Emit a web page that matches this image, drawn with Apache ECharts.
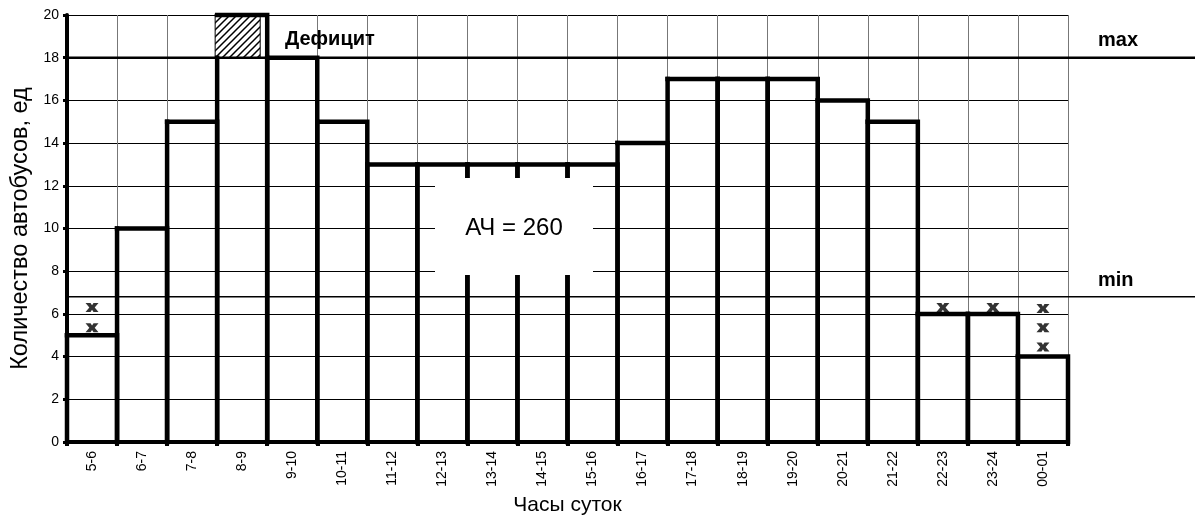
<!DOCTYPE html>
<html>
<head>
<meta charset="utf-8">
<script src="https://cdn.jsdelivr.net/npm/echarts@6/dist/echarts.min.js"></script>
<style>
  html, body { margin: 0; padding: 0; background: #fff; }
  #chart { width: 1197px; height: 528px; }
</style>
</head>
<body>
<div id="chart"></div>
<script>
// Hourly intervals of the day
const hours = ['5-6', '6-7', '7-8', '8-9', '9-10', '10-11', '11-12', '12-13', '13-14', '14-15',
  '15-16', '16-17', '17-18', '18-19', '19-20', '20-21', '21-22', '22-23', '23-24', '00-01'];
// Buses required in each hour
const buses = [5, 10, 15, 20, 18, 15, 13, 13, 13, 13, 13, 14, 17, 17, 17, 16, 15, 6, 6, 4];
// Fleet limits
const maxLevel = 18;
const minLevel = 6.8;
// Buses missing below the minimum level (one "x" per bus)
const shortHours = ['5-6', '5-6', '22-23', '23-24', '00-01', '00-01', '00-01'];
const shortLevels = [5.35, 6.3, 6.3, 6.3, 4.45, 5.35, 6.25];

const FONT = '"Liberation Sans", Arial, sans-serif';
const busHours = buses.reduce((a, b) => a + b, 0);

// Diagonal hatch used for the part above the max level
function hatchCanvas() {
  const s = 7;
  const c = document.createElement('canvas');
  c.width = s; c.height = s;
  const g = c.getContext('2d');
  g.fillStyle = '#fff';
  g.fillRect(0, 0, s, s);
  g.strokeStyle = '#000';
  g.lineWidth = 1.5;
  g.beginPath();
  g.moveTo(-1, s + 1); g.lineTo(s + 1, -1);
  g.moveTo(-1, 1); g.lineTo(1, -1);
  g.moveTo(s - 1, s + 1); g.lineTo(s + 1, s - 1);
  g.stroke();
  return c;
}
const hatch = hatchCanvas();

const stepData = buses.map((v, i) => [i, v]);
const overData = buses.map((v, i) => [i, v]).filter(d => d[1] > maxLevel);
const shortData = shortHours.map((h, k) => [hours.indexOf(h), shortLevels[k]]);

const chart = echarts.init(document.getElementById('chart'), null, { renderer: 'canvas' });

chart.setOption({
  animation: false,
  backgroundColor: '#fff',
  textStyle: { fontFamily: FONT },
  grid: { left: 67, right: 129, top: 15, bottom: 86, containLabel: false },
  xAxis: {
    type: 'category',
    data: hours,
    boundaryGap: true,
    name: 'Часы суток',
    nameLocation: 'middle',
    nameGap: 53,
    nameTextStyle: { fontSize: 21, color: '#000', fontFamily: FONT },
    axisLine: { lineStyle: { color: '#000', width: 4 } },
    axisTick: { show: true, length: 4, lineStyle: { color: '#000', width: 4 } },
    axisLabel: { rotate: 90, interval: 0, fontSize: 14, color: '#000', margin: 9, fontFamily: FONT },
    splitLine: { show: true, interval: 0, lineStyle: { color: '#777', width: 1 } }
  },
  yAxis: {
    type: 'value',
    min: 0,
    max: 20,
    interval: 2,
    name: 'Количество автобусов, ед',
    nameLocation: 'middle',
    nameGap: 27,
    nameTextStyle: { fontSize: 23.5, color: '#000', fontFamily: FONT },
    axisLine: { show: true, lineStyle: { color: '#000', width: 4 } },
    axisTick: { show: true, length: 4, lineStyle: { color: '#000', width: 3 } },
    axisLabel: { fontSize: 14, color: '#000', margin: 8, fontFamily: FONT },
    splitLine: { show: true, lineStyle: { color: '#000', width: 1 } }
  },
  series: [
    {
      // hatched part of a column exceeding the max level
      type: 'custom',
      z: 2,
      data: overData,
      renderItem(params, api) {
        const i = api.value(0);
        const lo = api.coord([i, maxLevel]);
        const hi = api.coord([i, api.value(1)]);
        const w = api.size([1, 0])[0];
        return {
          type: 'rect',
          shape: { x: lo[0] - w / 2 - 2, y: hi[1] - 1, width: w - 5, height: lo[1] - hi[1] + 1 },
          style: { fill: { image: hatch, repeat: 'repeat' }, stroke: '#000', lineWidth: 1 }
        };
      }
    },
    {
      // stepped outline of hourly demand
      type: 'custom',
      z: 3,
      data: stepData,
      renderItem(params, api) {
        const i = api.value(0);
        const v = api.value(1);
        const base = api.coord([i, 0]);
        const top = api.coord([i, v]);
        const leftTop = api.coord([i, Math.min(v, maxLevel)]);
        const w = api.size([1, 0])[0];
        const l = base[0] - w / 2, r = base[0] + w / 2;
        const st = { stroke: '#000', lineWidth: 4.5, fill: null, lineCap: 'square', lineJoin: 'miter' };
        return {
          type: 'group',
          children: [
            { type: 'polyline', shape: { points: [[l, base[1]], [l, leftTop[1]]] }, style: st },
            { type: 'polyline', shape: { points: [[l, top[1]], [r, top[1]], [r, base[1]]] }, style: st }
          ]
        };
      }
    },
    {
      // missing buses below the min level
      type: 'scatter',
      z: 4,
      data: shortData,
      symbol: 'path://M0,0 L5,0 L6.5,2.6 L8,0 L13,0 L9.2,5 L13,10 L8,10 L6.5,7.4 L5,10 L0,10 L3.8,5 Z',
      symbolSize: [13, 9],
      itemStyle: { color: '#000' }
    }
  ]
});

// Limit lines, their captions and the bus-hours box
const yMax = chart.convertToPixel({ yAxisIndex: 0 }, maxLevel);
const yMin = chart.convertToPixel({ yAxisIndex: 0 }, minLevel);
const xStart = 67, xEnd = 1195;

chart.setOption({
  graphic: [
    { type: 'line', z: 10, shape: { x1: xStart, y1: yMax, x2: xEnd, y2: yMax }, style: { stroke: '#000', lineWidth: 2.5 } },
    { type: 'line', z: 10, shape: { x1: xStart, y1: yMin, x2: xEnd, y2: yMin }, style: { stroke: '#000', lineWidth: 1.5 } },
    { type: 'text', z: 11, style: { x: 1098, y: yMax - 17, text: 'max', font: 'bold 20px ' + FONT, fill: '#000', textAlign: 'left', textVerticalAlign: 'middle' } },
    { type: 'text', z: 11, style: { x: 1098, y: yMin - 16, text: 'min', font: 'bold 20px ' + FONT, fill: '#000', textAlign: 'left', textVerticalAlign: 'middle' } },
    { type: 'text', z: 11, style: { x: 285, y: 39, text: 'Дефицит', font: 'bold 20px ' + FONT, fill: '#000', textAlign: 'left', textVerticalAlign: 'middle' } },
    { type: 'rect', z: 10, shape: { x: 435, y: 178, width: 158, height: 97 }, style: { fill: '#fff' } },
    { type: 'text', z: 11, style: { x: 514, y: 228, text: 'АЧ = ' + busHours, font: '24px ' + FONT, fill: '#000', textAlign: 'center', textVerticalAlign: 'middle' } }
  ]
});
</script>
</body>
</html>
